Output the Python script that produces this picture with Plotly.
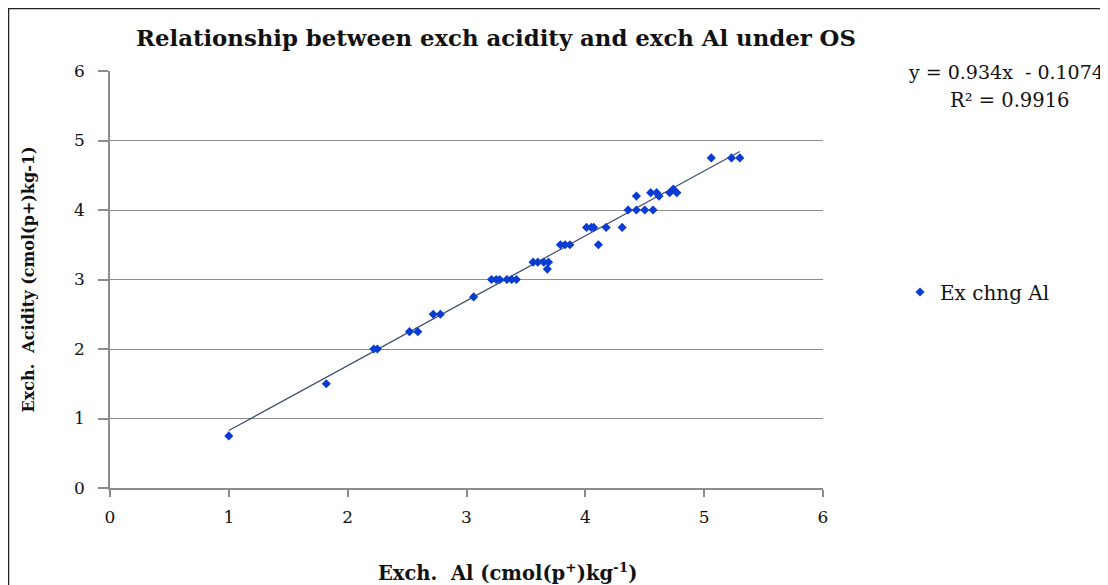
import plotly.graph_objects as go

# Exchangeable Al (x) and exchangeable acidity (y), cmol(p+)/kg
exch_al = [1.00, 1.82, 2.22, 2.25, 2.52, 2.59, 2.72, 2.78, 3.06,
           3.21, 3.25, 3.28, 3.34, 3.38, 3.42, 3.56, 3.60, 3.65, 3.69, 3.68,
           3.79, 3.83, 3.87, 4.01, 4.05, 4.07, 4.11, 4.175, 4.31,
           4.36, 4.43, 4.50, 4.57, 4.43, 4.55, 4.60, 4.62, 4.71, 4.74, 4.77,
           5.06, 5.23, 5.30]
exch_acidity = [0.75, 1.50, 2.00, 2.00, 2.25, 2.25, 2.50, 2.50, 2.75,
                3.00, 3.00, 3.00, 3.00, 3.00, 3.00, 3.25, 3.25, 3.25, 3.25, 3.15,
                3.50, 3.50, 3.50, 3.75, 3.75, 3.75, 3.50, 3.75, 3.75,
                4.00, 4.00, 4.00, 4.00, 4.20, 4.25, 4.25, 4.20, 4.25, 4.30, 4.25,
                4.75, 4.75, 4.75]

slope = 0.934
intercept = -0.1074
r_squared = 0.9916

tick_vals = [0, 1, 2, 3, 4, 5, 6]

trend_x = [min(exch_al), max(exch_al)]
trend_y = [slope * v + intercept for v in trend_x]

SERIF = "DejaVu Serif, serif"

# figure is drawn inside the page's 8px body margin
W, H = 1100, 577
L, R, T, B = 102, 285, 63, 97
PW, PH = W - L - R, H - T - B


def px(fx):
    return (fx - L) / PW


def py(fy):
    return (H - B - fy) / PH


fig = go.Figure()
fig.add_trace(go.Scatter(
    x=trend_x, y=trend_y, mode="lines",
    line=dict(color="#3d4d6e", width=1.2),
    showlegend=False, hoverinfo="skip"))
fig.add_trace(go.Scatter(
    x=exch_al, y=exch_acidity, mode="markers", name="Ex chng Al",
    marker=dict(symbol="diamond", size=7, color="#0a3cd2")))

fig.update_layout(
    width=W, height=H,
    margin=dict(l=L, r=R, t=T, b=B, autoexpand=False),
    paper_bgcolor="white", plot_bgcolor="white",
    font=dict(family=SERIF, size=17, color="#111111"),
    title=dict(text="<b>Relationship between exch acidity and exch Al under OS</b>",
               x=488 / W, xanchor="center", y=1 - 30 / H, yanchor="middle",
               font=dict(family=SERIF, size=22.8, color="#111111")),
    legend=dict(x=px(892), y=py(284), xanchor="left", yanchor="middle",
                font=dict(family=SERIF, size=20, color="#111111"),
                bgcolor="rgba(0,0,0,0)", itemwidth=30),
    showlegend=True,
)
fig.update_xaxes(
    range=[0, 6], tickvals=tick_vals, ticktext=[str(v) for v in tick_vals],
    automargin=False,
    showgrid=False, zeroline=False, showline=True, linecolor="#8c8c8c", linewidth=1.5,
    ticks="outside", ticklen=7, tickcolor="#8c8c8c", tickwidth=1.5,
    ticklabelstandoff=6,
    tickfont=dict(family=SERIF, size=17, color="#111111"))
fig.update_yaxes(
    range=[0, 6], tickvals=tick_vals, ticktext=[str(v) for v in tick_vals],
    automargin=False,
    showgrid=True, gridcolor="#8c8c8c", gridwidth=1.2,
    zeroline=False, showline=True, linecolor="#8c8c8c", linewidth=1.5,
    ticks="outside", ticklen=10, tickcolor="#8c8c8c", tickwidth=1.5,
    ticklabelstandoff=10,
    tickfont=dict(family=SERIF, size=17, color="#111111"),
    title=dict(text="<b>Exch.  Acidity (cmol(p+)kg-1)</b>",
               font=dict(family=SERIF, size=16, color="#111111"), standoff=35))

# x-axis title (offset to the right of the plot centre, as in the original)
fig.add_annotation(
    xref="paper", yref="paper", x=px(499), y=py(564),
    xanchor="center", yanchor="middle", showarrow=False,
    text="<b>Exch.  Al (cmol(p<sup>+</sup>)kg<sup>-1</sup>)</b>",
    font=dict(family=SERIF, size=19.5, color="#111111"))

fig.add_annotation(
    xref="paper", yref="paper", x=px(898), y=py(64),
    xanchor="left", yanchor="middle", showarrow=False,
    text=f"y = {slope}x  - {abs(intercept)}",
    font=dict(family=SERIF, size=19, color="#111111"))
fig.add_annotation(
    xref="paper", yref="paper", x=px(940), y=py(92),
    xanchor="left", yanchor="middle", showarrow=False,
    text=f"R² = {r_squared}",
    font=dict(family=SERIF, size=19.5, color="#111111"))

# outer chart frame
fig.add_shape(type="rect", xref="paper", yref="paper",
              x0=px(0.5), x1=px(1200), y0=py(700), y1=py(0.5),
              line=dict(color="#222222", width=1.5), fillcolor="rgba(0,0,0,0)",
              layer="below")

fig.write_html("out.html")
